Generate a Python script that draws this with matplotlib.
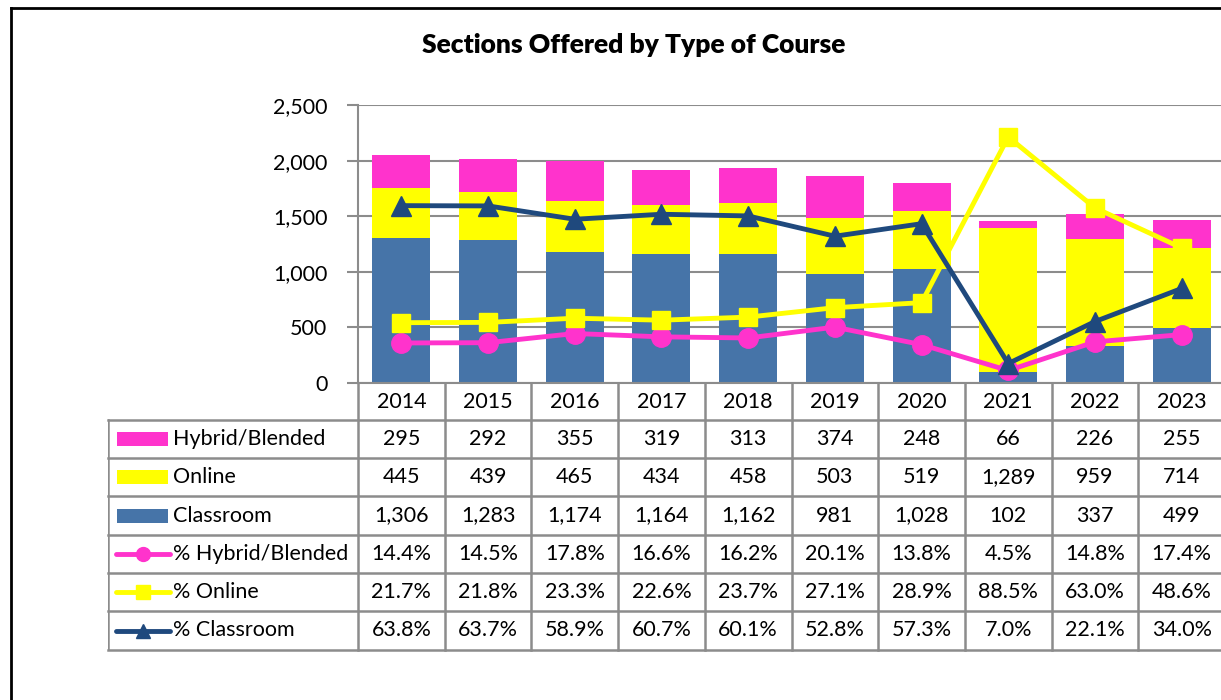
import matplotlib.pyplot as plt
from matplotlib.patches import Rectangle
from matplotlib.lines import Line2D

plt.rcParams["font.family"] = ["Lato", "DejaVu Sans"]

# Дані
years = ["2014", "2015", "2016", "2017", "2018", "2019", "2020", "2021", "2022", "2023"]
hybrid = [295, 292, 355, 319, 313, 374, 248, 66, 226, 255]
online = [445, 439, 465, 434, 458, 503, 519, 1289, 959, 714]
classroom = [1306, 1283, 1174, 1164, 1162, 981, 1028, 102, 337, 499]
pct_hybrid = [14.4, 14.5, 17.8, 16.6, 16.2, 20.1, 13.8, 4.5, 14.8, 17.4]
pct_online = [21.7, 21.8, 23.3, 22.6, 23.7, 27.1, 28.9, 88.5, 63.0, 48.6]
pct_classroom = [63.8, 63.7, 58.9, 60.7, 60.1, 52.8, 57.3, 7.0, 22.1, 34.0]

PINK = "#FF33CC"
YELLOW = "#FFFF00"
BLUE = "#4674A8"
NAVY = "#1F497D"
GRID = "#8C8C8C"
FS = 15.5

W, H = 1221, 700
fig = plt.figure(figsize=(W / 100, H / 100), dpi=100)


def box(l, t, r, b):
    return [l / W, 1 - b / H, (r - l) / W, (b - t) / H]


x = list(range(len(years)))

# Основний графік - стовпчики
ax = fig.add_axes(box(358, 105, 1225, 383))
ax.bar(x, classroom, width=0.67, color=BLUE, zorder=2)
bottom2 = [c for c in classroom]
ax.bar(x, online, width=0.67, bottom=bottom2, color=YELLOW, zorder=2)
bottom3 = [c + o for c, o in zip(classroom, online)]
ax.bar(x, hybrid, width=0.67, bottom=bottom3, color=PINK, zorder=2)
ax.set_xlim(-0.5, 9.5)
ax.set_ylim(0, 2500)
ax.set_yticks([0, 500, 1000, 1500, 2000, 2500])
ax.set_yticklabels(["0", "500", "1,000", "1,500", "2,000", "2,500"], fontsize=FS)
ax.set_xticks([])
ax.yaxis.grid(True, color=GRID, linewidth=1.5, zorder=0)
ax.tick_params(axis="y", length=8, width=1.5, color=GRID, pad=14)
for s in ["top", "right"]:
    ax.spines[s].set_visible(False)
for s in ["left", "bottom"]:
    ax.spines[s].set_color(GRID)
    ax.spines[s].set_linewidth(1.5)

# Відсотки на другій осі
ax2 = ax.twinx()
ax2.set_ylim(0, 100)
ax2.plot(x, pct_hybrid, color=PINK, linewidth=3.5, marker="o", markersize=14, zorder=3)
ax2.plot(x, pct_online, color=YELLOW, linewidth=3.5, marker="s", markersize=13, zorder=4)
ax2.plot(x, pct_classroom, color=NAVY, linewidth=3.5, marker="^", markersize=15, zorder=5)
ax2.set_yticks([])
for s in ax2.spines.values():
    s.set_visible(False)

# Таблиця даних
col_w = (1225 - 358) / 10
leg_w = (358 - 108) / col_w


def px2x(px):
    return -0.5 + (px - 358) / col_w


tab = fig.add_axes(box(108, 383, 1225, 650))
tab.set_xlim(-0.5 - leg_w, 9.5)
tab.set_ylim(267, 0)
tab.axis("off")

edges = [0, 37, 75, 113, 152, 190, 228, 267]
for e in edges[1:]:
    tab.plot([-0.5 - leg_w, 9.5], [e, e], color=GRID, linewidth=1.8, clip_on=False)
tab.plot([-0.5 - leg_w, -0.5 - leg_w], [37, 267], color=GRID, linewidth=1.8)
for k in range(11):
    tab.plot([k - 0.5, k - 0.5], [0, 267], color=GRID, linewidth=1.8, clip_on=False)

for i, yr in enumerate(years):
    tab.text(i, 18.5, yr, ha="center", va="center", fontsize=FS)

rows = [
    ("Hybrid/Blended", [f"{v:,}" for v in hybrid], "bar", PINK, None),
    ("Online", [f"{v:,}" for v in online], "bar", YELLOW, None),
    ("Classroom", [f"{v:,}" for v in classroom], "bar", BLUE, None),
    ("% Hybrid/Blended", [f"{v:.1f}%" for v in pct_hybrid], "line", PINK, "o"),
    ("% Online", [f"{v:.1f}%" for v in pct_online], "line", YELLOW, "s"),
    ("% Classroom", [f"{v:.1f}%" for v in pct_classroom], "line", NAVY, "^"),
]
for r, (label, vals, kind, col, mk) in enumerate(rows):
    yc = (edges[r + 1] + edges[r + 2]) / 2
    if kind == "bar":
        tab.add_patch(Rectangle((px2x(117), yc - 7), px2x(168) - px2x(117), 14,
                                facecolor=col, edgecolor="none"))
    else:
        tab.plot([px2x(116), px2x(170)], [yc, yc], color=col, linewidth=3.5,
                 solid_capstyle="round")
        tab.plot([px2x(143)], [yc], marker=mk, color=col, markersize=10)
    tab.text(px2x(173), yc, label, ha="left", va="center", fontsize=FS)
    for i, v in enumerate(vals):
        tab.text(i, yc, v, ha="center", va="center", fontsize=FS)

# Заголовок
fig.text(634 / W, 1 - 45 / H, "Sections Offered by Type of Course",
         ha="center", va="center", fontsize=19, fontweight="heavy")

# Рамка навколо діаграми
fig.add_artist(Line2D([11 / W, 11 / W], [0, 1 - 8 / H], color="black", linewidth=2,
                      transform=fig.transFigure))
fig.add_artist(Line2D([11 / W, 1], [1 - 8 / H, 1 - 8 / H], color="black", linewidth=2,
                      transform=fig.transFigure))

fig.savefig("out.png", dpi=100)
